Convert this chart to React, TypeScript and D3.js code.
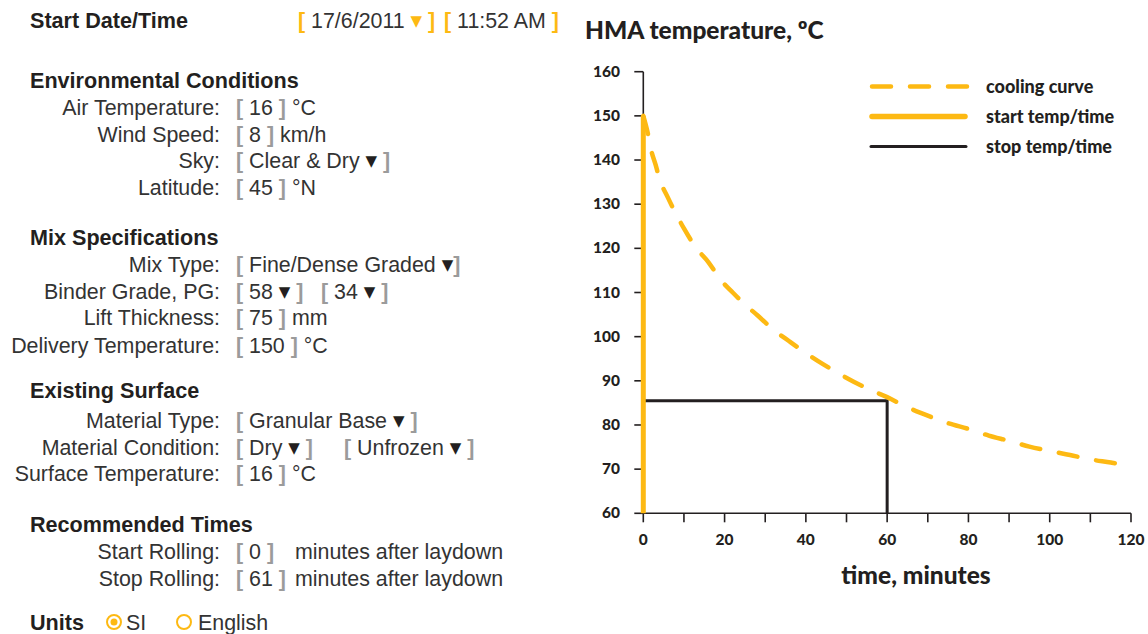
import React from 'react';
import * as d3 from 'd3';

// ---------- chart data ----------
const coolingTime = [0, 1, 2, 3, 4, 6, 8, 10, 13, 16, 19, 22, 25, 28, 32, 36, 40, 44, 48, 52, 56, 60, 65, 70, 75, 80, 85, 90, 95, 100, 105, 110, 115, 120];
const coolingTemp = [150, 146.5, 142, 139, 135.7, 131.6, 127.9, 124.5, 120.1, 116.9, 112.9, 110.0, 107.3, 104.9, 101.6, 98.9, 96.3, 93.9, 91.7, 89.7, 87.9, 86.3, 84.0, 82.1, 80.4, 79.1, 77.6, 76.4, 75.1, 74.1, 73.2, 72.2, 71.5, 70.7];
const startTime = 0;
const startTemp = 150;
const stopTime = 60;
const stopTemp = 85.5;
const yTicks = [60, 70, 80, 90, 100, 110, 120, 130, 140, 150, 160];
const xMinorTicks = [0, 10, 20, 30, 40, 50, 60, 70, 80, 90, 100, 110, 120];
const xTickLabels = [0, 20, 40, 60, 80, 100, 120];
const legendLabels = ['cooling curve', 'start temp/time', 'stop temp/time'];

// ---------- form content ----------
const headers = [
  { text: 'Start Date/Time', y: 28 },
  { text: 'Environmental Conditions', y: 88 },
  { text: 'Mix Specifications', y: 245 },
  { text: 'Existing Surface', y: 398 },
  { text: 'Recommended Times', y: 532 },
  { text: 'Units', y: 630 },
];

const fields = [
  { label: 'Air Temperature:', y: 115, values: [{ x: 236, v: '[ 16 ] °C' }] },
  { label: 'Wind Speed:', y: 142, values: [{ x: 236, v: '[ 8 ] km/h' }] },
  { label: 'Sky:', y: 168, values: [{ x: 236, v: '[ Clear & Dry ▼ ]' }] },
  { label: 'Latitude:', y: 195, values: [{ x: 236, v: '[ 45 ] °N' }] },
  { label: 'Mix Type:', y: 272, values: [{ x: 236, v: '[ Fine/Dense Graded ▼]' }] },
  { label: 'Binder Grade, PG:', y: 299, values: [{ x: 236, v: '[ 58 ▼ ]' }, { x: 321, v: '[ 34 ▼ ]' }] },
  { label: 'Lift Thickness:', y: 325, values: [{ x: 236, v: '[ 75 ] mm' }] },
  { label: 'Delivery Temperature:', y: 353, values: [{ x: 236, v: '[ 150 ] °C' }] },
  { label: 'Material Type:', y: 428, values: [{ x: 236, v: '[ Granular Base ▼ ]' }] },
  { label: 'Material Condition:', y: 455, values: [{ x: 236, v: '[ Dry ▼ ]' }, { x: 344, v: '[ Unfrozen ▼ ]' }] },
  { label: 'Surface Temperature:', y: 481, values: [{ x: 236, v: '[ 16 ] °C' }] },
  { label: 'Start Rolling:', y: 559, values: [{ x: 236, v: '[ 0 ]' }, { x: 295, v: 'minutes after laydown' }] },
  { label: 'Stop Rolling:', y: 586, values: [{ x: 236, v: '[ 61 ]' }, { x: 295, v: 'minutes after laydown' }] },
];

const dateValues = [
  { x: 298, v: '[ 17/6/2011 ▼ ]' },
  { x: 444, v: '[ 11:52 AM ]' },
];

const YELLOW = '#FDB913';
const INK = '#231f20';
const TEXT = '#333333';
const BRACKET = '#9b9b9b';
const FORM_FONT = "'Liberation Sans', Arial, Helvetica, sans-serif";
const CHART_FONT = "Lato, 'Open Sans', sans-serif";
const FORM_SIZE = 21.4;

function ValueText({ x, y, v, accent }: { x: number; y: number; v: string; accent?: boolean }) {
  const tokens: { t: string; kind: 'b' | 'tri' | 'txt' }[] = [];
  let buf = '';
  for (const ch of v) {
    if (ch === '[' || ch === ']' || ch === '▼') {
      if (buf) tokens.push({ t: buf, kind: 'txt' });
      buf = '';
      tokens.push({ t: ch, kind: ch === '▼' ? 'tri' : 'b' });
    } else buf += ch;
  }
  if (buf) tokens.push({ t: buf, kind: 'txt' });
  let shifted = false;
  return (
    <text x={x} y={y} fontFamily={FORM_FONT} fontSize={FORM_SIZE} fill={TEXT} style={{ whiteSpace: 'pre' }}>
      {tokens.map((tk, i) => {
        if (tk.kind === 'b') {
          const dy = shifted ? 2 : 0;
          shifted = false;
          return (
            <tspan key={i} dy={dy} fill={accent ? YELLOW : BRACKET} fontWeight={700}>{tk.t}</tspan>
          );
        }
        if (tk.kind === 'tri') {
          const dy = shifted ? 0 : -2;
          shifted = true;
          return (
            <tspan key={i} dy={dy} fontFamily="'DejaVu Sans', sans-serif" fontSize={15} fill={accent ? YELLOW : INK}>{tk.t}</tspan>
          );
        }
        const dy = shifted ? 2 : 0;
        shifted = false;
        return (
          <tspan key={i} dy={dy}>{tk.t}</tspan>
        );
      })}
    </text>
  );
}

export default function App() {
  const W = 1148;
  const H = 634;
  const x = d3.scaleLinear().domain([0, 120]).range([643.3, 1131]);
  const y = d3.scaleLinear().domain([60, 160]).range([513.3, 71.7]);

  const coolingData = coolingTime.map((t, i) => [t, coolingTemp[i]] as [number, number]);
  const curve = d3
    .line<[number, number]>()
    .x((d) => x(d[0]))
    .y((d) => y(d[1]))
    .curve(d3.curveMonotoneX)(coolingData) as string;

  const startPath = d3.line()([
    [x(startTime), y(60)],
    [x(startTime), y(startTemp)],
  ]) as string;
  const stopPath = d3.line()([
    [x(startTime), y(stopTemp)],
    [x(stopTime), y(stopTemp)],
    [x(stopTime), y(60)],
  ]) as string;

  const legendX0 = 870;
  const legendX1 = 967;
  const legendY = [86.5, 116.5, 146.5];

  return (
    <svg width={W} height={H} style={{ position: 'absolute', left: 0, top: 0, background: '#fff' }}>
      {/* ---------- form ---------- */}
      {headers.map((h) => (
        <text key={h.text} x={30} y={h.y} fontFamily={FORM_FONT} fontWeight={700} fontSize={21.6} fill={INK}>
          {h.text}
        </text>
      ))}
      {dateValues.map((d) => (
        <ValueText key={d.v} x={d.x} y={28} v={d.v} accent />
      ))}
      {fields.map((f) => (
        <g key={f.label}>
          <text x={220} y={f.y} textAnchor="end" fontFamily={FORM_FONT} fontSize={FORM_SIZE} fill={TEXT}>
            {f.label}
          </text>
          {f.values.map((v) => (
            <ValueText key={v.v + v.x} x={v.x} y={f.y} v={v.v} />
          ))}
        </g>
      ))}
      {/* units radios */}
      <circle cx={114} cy={622} r={7} fill="none" stroke={YELLOW} strokeWidth={2} />
      <circle cx={114} cy={622} r={3.5} fill={YELLOW} />
      <text x={126} y={630} fontFamily={FORM_FONT} fontSize={FORM_SIZE} fill={TEXT}>SI</text>
      <circle cx={184} cy={622} r={7} fill="none" stroke={YELLOW} strokeWidth={2} />
      <text x={198} y={630} fontFamily={FORM_FONT} fontSize={FORM_SIZE} fill={TEXT}>English</text>

      {/* ---------- chart ---------- */}
      <text x={585} y={39} fontFamily={CHART_FONT} fontWeight={900} fontSize={24.5} fill={INK}>
        HMA temperature, ºC
      </text>

      {/* y axis */}
      <line x1={x(0)} x2={x(0)} y1={y(160)} y2={y(60)} stroke={INK} strokeWidth={1.6} />
      {yTicks.map((t) => (
        <g key={t}>
          <line x1={x(0) - 9} x2={x(0)} y1={y(t)} y2={y(t)} stroke={INK} strokeWidth={1.6} />
          <text x={620} y={y(t) + 5} textAnchor="end" fontFamily={CHART_FONT} fontWeight={900} fontSize={15.5} fill={INK}>
            {t}
          </text>
        </g>
      ))}
      {/* x axis */}
      <line x1={x(0)} x2={x(120)} y1={y(60)} y2={y(60)} stroke={INK} strokeWidth={1.6} />
      {xMinorTicks.map((t) => (
        <line key={t} x1={x(t)} x2={x(t)} y1={y(60)} y2={y(60) + 9} stroke={INK} strokeWidth={1.6} />
      ))}
      {xTickLabels.map((t) => (
        <text key={t} x={x(t)} y={545} textAnchor="middle" fontFamily={CHART_FONT} fontWeight={900} fontSize={15.5} fill={INK}>
          {t}
        </text>
      ))}
      <text x={916} y={584} textAnchor="middle" fontFamily={CHART_FONT} fontWeight={900} fontSize={24.5} fill={INK}>
        time, minutes
      </text>

      {/* series */}
      <path d={stopPath} fill="none" stroke={INK} strokeWidth={3} />
      <path d={curve} fill="none" stroke={YELLOW} strokeWidth={4.5} strokeDasharray="19 19" strokeLinecap="round" />
      <path d={startPath} fill="none" stroke={YELLOW} strokeWidth={5} />

      {/* legend */}
      <line x1={legendX0 + 2} x2={legendX1} y1={legendY[0]} y2={legendY[0]} stroke={YELLOW} strokeWidth={4.5} strokeDasharray="19 19" strokeLinecap="round" />
      <line x1={legendX0 + 2} x2={legendX1 - 2} y1={legendY[1]} y2={legendY[1]} stroke={YELLOW} strokeWidth={5.5} strokeLinecap="round" />
      <line x1={legendX0 + 1} x2={legendX1 - 1} y1={legendY[2]} y2={legendY[2]} stroke={INK} strokeWidth={3} strokeLinecap="round" />
      {legendLabels.map((l, i) => (
        <text key={l} x={986} y={legendY[i] + 6} fontFamily={CHART_FONT} fontWeight={900} fontSize={18} fill={INK}>
          {l}
        </text>
      ))}
    </svg>
  );
}
